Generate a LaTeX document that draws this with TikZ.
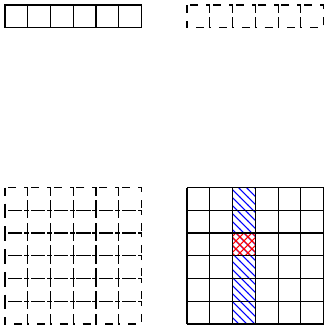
\documentclass[tikz,border=0pt]{standalone}
\usetikzlibrary{patterns}
\begin{document}
\begin{tikzpicture}[x=0.3cm,y=0.3cm,line width=0.45pt]
\useasboundingbox (0,0) rectangle (14.24,14.28);
% top-left: solid row
\begin{scope}[shift={(0.22,13.06)}]
  \foreach \i in {0,...,5} \draw (\i,1) rectangle ++(1,-1);
\end{scope}
% top-right: dashed row
\begin{scope}[shift={(8.22,13.06)}]
  \foreach \i in {0,...,5} \draw[dashed] (\i,1) rectangle ++(1,-1);
\end{scope}
% bottom-left: dashed 6x6
\begin{scope}[shift={(0.22,0.04)}]
  \foreach \i in {0,...,5} \foreach \j in {1,...,6} \draw[dashed] (\i,\j) rectangle ++(1,-1);
\end{scope}
% bottom-right: solid 6x6 with hatched column and cell
\begin{scope}[shift={(8.22,0.04)}]
  \fill[pattern=north west lines, pattern color=blue] (2,0) rectangle (3,6);
  \fill[pattern=crosshatch, pattern color=red] (2,3) rectangle (3,4);
  \foreach \k in {0,...,6} {
    \draw (\k,0) -- (\k,6);
    \draw (0,\k) -- (6,\k);
  }
  \draw (2,0) rectangle (3,6);
\end{scope}
\end{tikzpicture}
\end{document}
